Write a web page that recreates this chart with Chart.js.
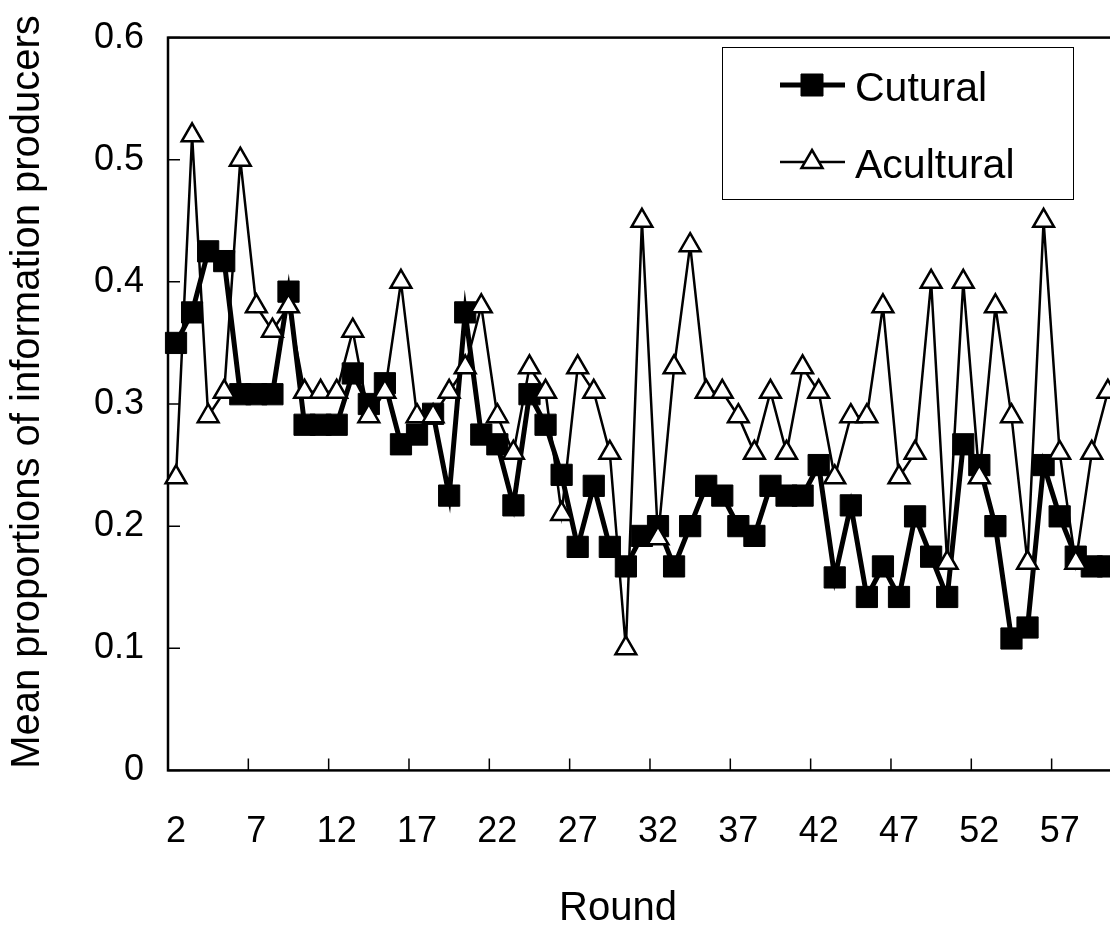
<!DOCTYPE html>
<html>
<head>
<meta charset="utf-8">
<script src="https://cdn.jsdelivr.net/npm/chart.js@4.4.1/dist/chart.umd.min.js"></script>
<style>
  html, body { margin: 0; padding: 0; background: #fff; overflow: hidden; }
  #wrap { width: 1140px; height: 933px; }
</style>
</head>
<body>
<div id="wrap"><canvas id="chart" width="1140" height="933"></canvas></div>
<script>
// Rounds 2..60 (x categories)
const rounds = ['2','3','4','5','6','7','8','9','10','11','12','13','14','15','16','17','18','19','20',
  '21','22','23','24','25','26','27','28','29','30','31','32','33','34','35','36','37','38','39','40',
  '41','42','43','44','45','46','47','48','49','50','51','52','53','54','55','56','57','58','59','60'];

// Mean proportions of information producers
const cultural = [0.35, 0.375, 0.425, 0.417, 0.308, 0.308, 0.308, 0.392, 0.283, 0.283,
  0.283, 0.325, 0.30, 0.317, 0.267, 0.275, 0.292, 0.225, 0.375, 0.275,
  0.267, 0.217, 0.308, 0.283, 0.242, 0.183, 0.233, 0.183, 0.167, 0.192,
  0.20, 0.167, 0.20, 0.233, 0.225, 0.20, 0.192, 0.233, 0.225, 0.225,
  0.25, 0.158, 0.217, 0.142, 0.167, 0.142, 0.208, 0.175, 0.142, 0.267,
  0.25, 0.20, 0.108, 0.117, 0.25, 0.208, 0.175, 0.167, 0.167];

const acultural = [0.24, 0.52, 0.29, 0.31, 0.50, 0.38, 0.36, 0.38, 0.31, 0.31,
  0.31, 0.36, 0.29, 0.31, 0.40, 0.29, 0.29, 0.31, 0.33, 0.38,
  0.29, 0.26, 0.33, 0.31, 0.21, 0.33, 0.31, 0.26, 0.10, 0.45,
  0.19, 0.33, 0.43, 0.31, 0.31, 0.29, 0.26, 0.31, 0.26, 0.33,
  0.31, 0.24, 0.29, 0.29, 0.38, 0.24, 0.26, 0.40, 0.17, 0.40,
  0.24, 0.38, 0.29, 0.17, 0.45, 0.26, 0.17, 0.26, 0.31];

const yTickLabels = ['0', '0.1', '0.2', '0.3', '0.4', '0.5', '0.6'];

const FONT = '"Liberation Sans", Arial, sans-serif';

// plot frame + inward tick marks, like the spreadsheet original
const framePlugin = {
  id: 'frame',
  beforeDatasetsDraw(chart) {
    const { ctx, chartArea: a, scales: { x, y } } = chart;
    ctx.save();
    ctx.strokeStyle = '#000';
    ctx.lineWidth = 2.5;
    ctx.strokeRect(a.left, a.top, a.right - a.left, a.bottom - a.top);

    ctx.lineWidth = 1.5;
    ctx.beginPath();
    yTickLabels.forEach((_, i) => {
      const py = y.getPixelForValue(i * 0.1);
      ctx.moveTo(a.left, py);
      ctx.lineTo(a.left + 12, py);
    });
    const half = (x.getPixelForValue(1) - x.getPixelForValue(0)) / 2;
    for (let i = 5; i < rounds.length; i += 5) {
      const px = x.getPixelForValue(i) - half;
      ctx.moveTo(px, a.bottom);
      ctx.lineTo(px, a.bottom - 12);
    }
    ctx.stroke();
    ctx.restore();
  },
  afterDraw(chart) {
    const ctx = chart.ctx;
    ctx.save();
    ctx.fillStyle = '#000';
    ctx.font = '40px ' + FONT;
    ctx.textAlign = 'center';
    ctx.textBaseline = 'middle';
    ctx.fillText('Round', 618, 909);
    ctx.translate(28, 392);
    ctx.rotate(-Math.PI / 2);
    ctx.fillText('Mean proportions of information producers', 0, 0);
    ctx.restore();
  }
};

// boxed legend inside the plot (top right)
const boxLegend = {
  id: 'boxLegend',
  afterDatasetsDraw(chart) {
    const ctx = chart.ctx;
    ctx.save();
    ctx.fillStyle = '#fff';
    ctx.fillRect(722, 47, 351, 152);
    ctx.strokeStyle = '#000';
    ctx.lineWidth = 1;
    ctx.strokeRect(722.5, 47.5, 351, 152);

    chart.data.datasets.forEach((ds, i) => {
      const y = 85 + i * 77;
      ctx.strokeStyle = '#000';
      ctx.lineWidth = ds.borderWidth;
      ctx.beginPath();
      ctx.moveTo(780, y);
      ctx.lineTo(845, y);
      ctx.stroke();

      ctx.lineWidth = ds.pointBorderWidth;
      ctx.fillStyle = ds.pointBackgroundColor;
      ctx.beginPath();
      if (ds.pointStyle === 'rect') {
        ctx.rect(801, y - 11, 22, 22);
      } else {
        ctx.moveTo(812, y - 12);
        ctx.lineTo(822.5, y + 6);
        ctx.lineTo(801.5, y + 6);
        ctx.closePath();
      }
      ctx.fill();
      ctx.stroke();

      ctx.fillStyle = '#000';
      ctx.font = '41px ' + FONT;
      ctx.textAlign = 'left';
      ctx.textBaseline = 'alphabetic';
      ctx.fillText(ds.label, 855, y + 16);
    });
    ctx.restore();
  }
};

new Chart(document.getElementById('chart'), {
  type: 'line',
  data: {
    labels: rounds,
    datasets: [{
      label: 'Cutural',
      data: cultural,
      borderColor: '#000',
      borderWidth: 5,
      pointStyle: 'rect',
      pointRadius: 15,
      pointBackgroundColor: '#000',
      pointBorderColor: '#000',
      pointBorderWidth: 1,
      tension: 0,
      order: 2
    }, {
      label: 'Acultural',
      data: acultural,
      borderColor: '#000',
      borderWidth: 2.5,
      pointStyle: 'triangle',
      pointRadius: 12,
      pointBackgroundColor: '#fff',
      pointBorderColor: '#000',
      pointBorderWidth: 2.5,
      tension: 0,
      order: 1
    }]
  },
  options: {
    responsive: false,
    animation: false,
    layout: { padding: { top: 34, left: 0, right: 0, bottom: 0 } },
    plugins: {
      legend: { display: false },
      tooltip: { enabled: false }
    },
    scales: {
      x: {
        type: 'category',
        offset: true,
        grid: { display: false },
        border: { display: false },
        ticks: {
          autoSkip: false,
          maxRotation: 0,
          padding: 32,
          color: '#000',
          font: { family: FONT, size: 36 },
          callback: function (v, i) { return i % 5 === 0 ? this.getLabelForValue(v) : ''; }
        },
        afterFit: s => { s.height = 933 - 770.4; }
      },
      y: {
        min: 0,
        max: 0.6,
        grid: { display: false },
        border: { display: false },
        ticks: {
          stepSize: 0.1,
          padding: 16,
          color: '#000',
          font: { family: FONT, size: 36 },
          callback: (v, i) => yTickLabels[i]
        },
        afterFit: s => { s.width = 168; }
      }
    }
  },
  plugins: [framePlugin, boxLegend]
});
</script>
</body>
</html>
